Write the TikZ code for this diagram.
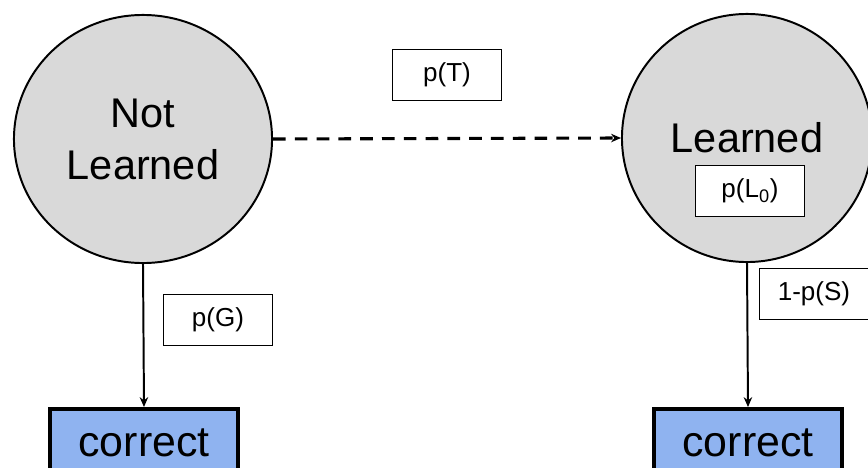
\documentclass[tikz,border=0pt]{standalone}
\usepackage{fontspec}
\setmainfont{Liberation Sans}
\usetikzlibrary{arrows.meta,shapes.geometric}
\definecolor{stategray}{RGB}{217,217,217}
\definecolor{obsblue}{RGB}{143,179,240}

\begin{document}
\begin{tikzpicture}[x=0.025cm, y=-0.025cm,
  state/.style={ellipse, draw=black, line width=1.4pt, fill=stategray, minimum width=6.45cm, minimum height=6.2cm, inner sep=0pt, align=center, font=\fontsize{29.5}{37}\selectfont},
  prob/.style={draw=black, line width=0.7pt, fill=white, minimum width=2.725cm, minimum height=1.275cm, inner sep=0pt, font=\fontsize{18.5}{22}\selectfont},
  obs/.style={draw=black, line width=2.8pt, fill=obsblue, minimum width=4.7cm, minimum height=1.7cm, inner sep=0pt, font=\fontsize{30.5}{36}\selectfont},
  emit/.style={line width=1.4pt, -{Stealth[length=7pt,width=6pt]}}]
\useasboundingbox (0,0) rectangle (868,467);
\clip (0,0) rectangle (868,467);

\node[state] (notlearned) at (143,139) {Not\\Learned};
\node[state, minimum width=6.25cm] (learned) at (747,138) {Learned};

\node[obs] (correctA) at (144,443) {correct};
\node[obs] (correctB) at (748,443) {correct};

\draw[line width=2.2pt, dash pattern=on 9pt off 6.5pt, -{Stealth[length=7pt,width=6pt]}] (notlearned.east) -- (learned.west);
\draw[emit] (notlearned.south) -- (correctA.north);
\draw[emit] (learned.south) -- (correctB.north);

\node[prob] (pT) at (447,75) {p(T)};
\node[prob] (pL) at (750,191) {p(L\textsubscript{0})};
\node[prob] (pG) at (218,320) {p(G)};
\node[prob] (pS) at (814,294) {1-p(S)};
\end{tikzpicture}
\end{document}
